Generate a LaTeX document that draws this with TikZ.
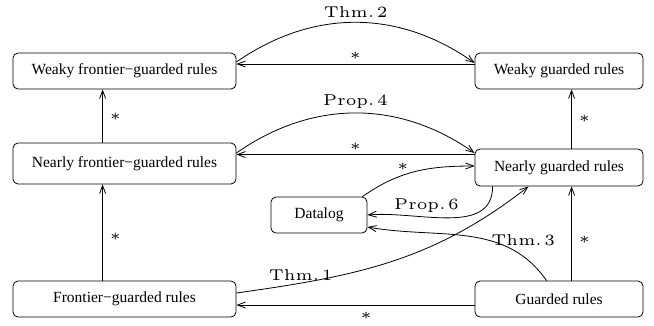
\documentclass[tikz,border=0pt]{standalone}
\usepackage{fontspec}
\newfontfamily\boxfont{Liberation Serif}
\usetikzlibrary{arrows.meta}
\newcommand{\labfont}{\fontsize{5}{6}\selectfont}

\begin{document}
\begin{tikzpicture}[x=1pt,y=1pt,line width=0.8pt,
	>={Straight Barb[length=8pt,width=6pt]},
	box/.style={draw,rounded corners=5pt,inner sep=0pt,minimum height=36,
		font=\fontsize{15.5}{18}\boxfont},
	lab/.style={font=\labfont,inner sep=1pt,scale=3.14,transform shape},
	vlab/.style={lab,right,inner xsep=1.8pt}]
\useasboundingbox (0,0) rectangle (654,-325);

\node[box,minimum width=223] (wfg) at (124.5,-71) {Weaky frontier−guarded rules};
\node[box,minimum width=168] (wg) at (559,-71) {Weaky guarded rules};
\node[box,minimum width=223,minimum height=41] (nfg) at (124.5,-163.5) {Nearly frontier−guarded rules};
\node[box,minimum width=168,minimum height=37] (ng) at (559,-167.5) {Nearly guarded rules};
\node[box,minimum width=96] (dl) at (319,-215) {Datalog};
\node[box,minimum width=223] (fg) at (124.5,-299) {Frontier−guarded rules};
\node[box,minimum width=168] (gr) at (559,-299) {Guarded rules};

\draw[->] ([xshift=90]nfg.north west) -- ([xshift=90]wfg.south west) node[vlab,pos=0.48] {$*$};
\draw[->] ([xshift=90]fg.north west) -- ([xshift=90]nfg.south west) node[vlab,pos=0.45] {$*$};
\draw[->] ([xshift=97]ng.north west) -- ([xshift=97]wg.south west) node[vlab,midway] {$*$};
\draw[->] ([xshift=97]gr.north west) -- ([xshift=97]ng.south west) node[vlab,pos=0.43] {$*$};

\draw[->] ([yshift=7]wg.west) -- ([yshift=7]wfg.east) node[lab,midway,above] {$*$};
\draw[->] ([yshift=9]wfg.east) to[bend left=35] node[lab,above] {Thm.\,2} ([yshift=8]wg.west);
\draw[->] ([yshift=13]ng.west) -- ([yshift=9]nfg.east) node[lab,midway,above] {$*$};
\draw[->] ([yshift=10.5]nfg.east) to[bend left=35] node[lab,above] {Prop.\,4} ([yshift=14.5]ng.west);

\draw[->] ([xshift=-5]dl.north east) to[out=35,in=180] node[lab,above,pos=0.38] {$*$} ([yshift=1.5]ng.west);
\draw[->] ([xshift=18]ng.south west) to[out=-90,in=5] node[lab,above,pos=0.64] {Prop.\,6} (dl.east);
\draw[->] ([xshift=72]gr.north west) to[out=125,in=-10] node[lab,above,pos=0.17,inner ysep=2.8pt] {Thm.\,3} ([yshift=-12]dl.east);
\draw[->] ([yshift=6]fg.east) to[out=8,in=218] node[lab,above,pos=0.19,inner ysep=0.5pt] {Thm.\,1} ([xshift=54]ng.south west);
\draw[->] ([yshift=-6]gr.west) -- ([yshift=-6]fg.east) node[lab,pos=0.455,below,inner ysep=2pt] {$*$};
\end{tikzpicture}
\end{document}
